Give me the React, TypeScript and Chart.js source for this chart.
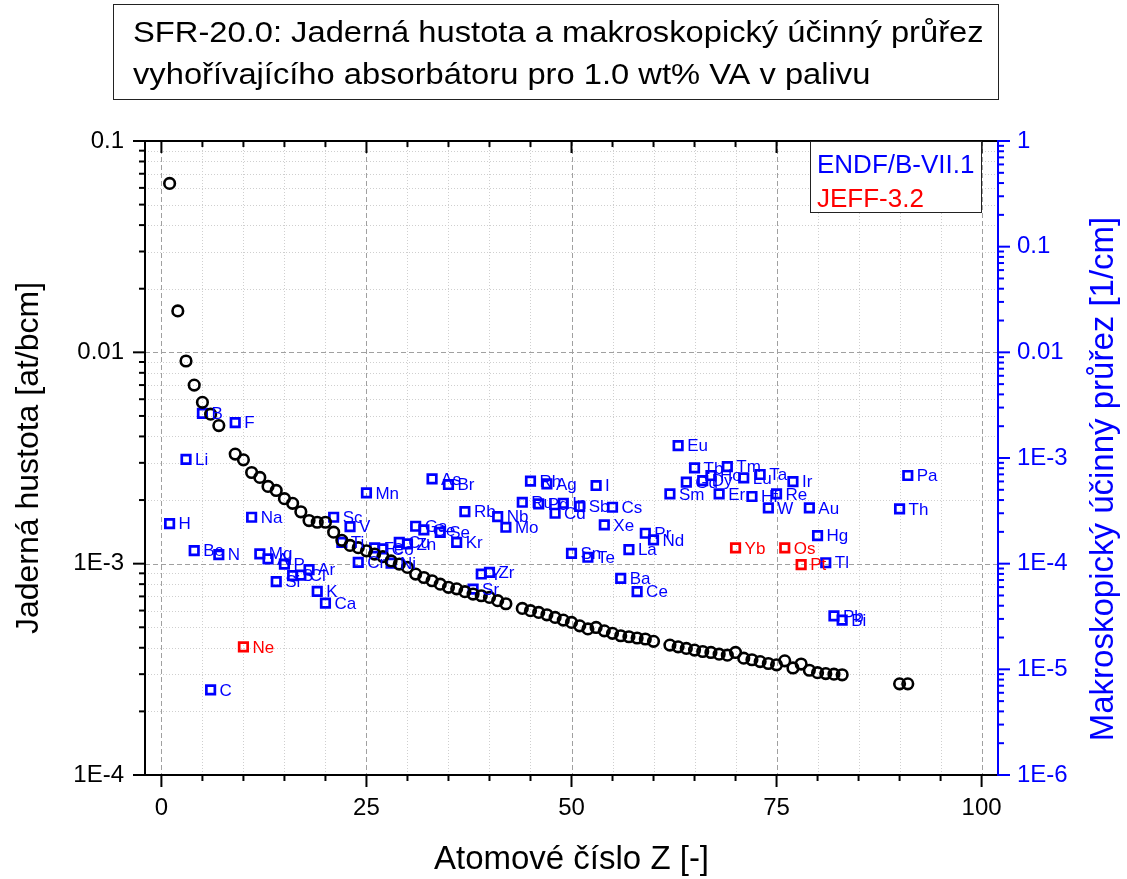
import React, { useEffect, useRef } from "react";
import { Chart, registerables } from "chart.js";

Chart.register(...registerables);

const FONT = '"Liberation Sans", Arial, Helvetica, sans-serif';

// ---- Data ----
// Atomic density [at/bcm] of each element (left axis)
const DENSITY_Z = [
  1, 2, 3, 4, 5, 6, 7, 9, 10, 11, 12, 13, 14, 15, 16, 17, 18, 19, 20, 21, 22, 23, 24, 25, 26, 27, 28, 29, 30,
  31, 32, 33, 34, 35, 36, 37, 38, 39, 40, 41, 42, 44, 45, 46, 47, 48, 49, 50, 51, 52, 53, 54, 55, 56, 57, 58,
  59, 60, 62, 63, 64, 65, 66, 67, 68, 69, 70, 71, 72, 73, 74, 75, 76, 77, 78, 79, 80, 81, 82, 83, 90, 91,
];
const DENSITY = [
  0.063, 0.0157, 0.0091, 0.007, 0.0058, 0.0051, 0.0045, 0.0033, 0.0031, 0.0027, 0.00256, 0.00232, 0.00222,
  0.00203, 0.00193, 0.00176, 0.0016, 0.00157, 0.00157, 0.00141, 0.00129, 0.00122, 0.00119, 0.00115, 0.00111,
  0.00108, 0.00103, 0.000996, 0.00096, 0.000893, 0.00086, 0.00083, 0.0008, 0.000773, 0.00076, 0.000737,
  0.000718, 0.000705, 0.000692, 0.000668, 0.000646, 0.000614, 0.000599, 0.000588, 0.000573, 0.000557,
  0.000541, 0.000527, 0.000508, 0.000491, 0.000499, 0.000481, 0.000468, 0.000456, 0.000451, 0.000445,
  0.00044, 0.000429, 0.000412, 0.000404, 0.000397, 0.00039, 0.000384, 0.00038, 0.000373, 0.000369, 0.00038,
  0.000357, 0.000351, 0.000344, 0.000337, 0.000332, 0.000347, 0.000321, 0.000335, 0.000313, 0.000305,
  0.000302, 0.0003, 0.000298, 0.00027, 0.00027,
];

// Macroscopic cross section [1/cm] (right axis) - ENDF/B-VII.1
const ENDF_Z = [
  1, 3, 4, 5, 6, 7, 9, 11, 12, 13, 14, 15, 16, 17, 18, 19, 20, 21, 22, 23, 24, 25, 26, 27, 28, 29, 30, 31, 32,
  33, 34, 35, 36, 37, 38, 39, 40, 41, 42, 44, 45, 46, 47, 48, 49, 50, 51, 52, 53, 54, 55, 56, 57, 58, 59, 60,
  62, 63, 64, 65, 66, 67, 68, 69, 71, 72, 73, 74, 75, 77, 79, 80, 81, 82, 83, 90, 91,
];
const ENDF_SYMBOLS = [
  "H", "Li", "Be", "B", "C", "N", "F", "Na", "Mg", "Al", "Si", "P", "S", "Cl", "Ar", "K", "Ca", "Sc", "Ti", "V",
  "Cr", "Mn", "Fe", "Co", "Ni", "Cu", "Zn", "Ga", "Ge", "As", "Se", "Br", "Kr", "Rb", "Sr", "Y", "Zr", "Nb",
  "Mo", "Ru", "Rh", "Pd", "Ag", "Cd", "In", "Sn", "Sb", "Te", "I", "Xe", "Cs", "Ba", "La", "Ce", "Pr", "Nd",
  "Sm", "Eu", "Gd", "Tb", "Dy", "Ho", "Er", "Tm", "Lu", "Hf", "Ta", "W", "Re", "Ir", "Au", "Hg", "Tl", "Pb",
  "Bi", "Th", "Pa",
];
const ENDF_SIGMA = [
  2.39e-4, 9.7e-4, 1.33e-4, 2.64e-3, 6.4e-6, 1.22e-4, 2.16e-3, 2.75e-4, 1.24e-4, 1.11e-4, 6.75e-5, 9.9e-5,
  7.7e-5, 7.8e-5, 8.8e-5, 5.47e-5, 4.24e-5, 2.75e-4, 1.59e-4, 2.24e-4, 1.03e-4, 4.68e-4, 1.41e-4, 1.38e-4,
  1.01e-4, 1.59e-4, 1.54e-4, 2.26e-4, 2.09e-4, 6.35e-4, 1.98e-4, 5.61e-4, 1.59e-4, 3.11e-4, 5.75e-5, 7.98e-5,
  8.28e-5, 2.79e-4, 2.21e-4, 3.81e-4, 6.03e-4, 3.68e-4, 5.69e-4, 3.0e-4, 3.73e-4, 1.25e-4, 3.49e-4, 1.15e-4,
  5.49e-4, 2.33e-4, 3.42e-4, 7.26e-5, 1.36e-4, 5.43e-5, 1.94e-4, 1.68e-4, 4.57e-4, 1.31e-3, 5.9e-4, 8.07e-4,
  6.12e-4, 6.83e-4, 4.57e-4, 8.3e-4, 6.49e-4, 4.32e-4, 6.98e-4, 3.37e-4, 4.57e-4, 5.98e-4, 3.37e-4, 1.84e-4,
  1.02e-4, 3.21e-5, 2.92e-5, 3.3e-4, 6.83e-4,
];

// Macroscopic cross section [1/cm] - JEFF-3.2
const JEFF_Z = [10, 70, 76, 78];
const JEFF_SYMBOLS = ["Ne", "Yb", "Os", "Pt"];
const JEFF_SIGMA = [1.63e-5, 1.41e-4, 1.41e-4, 9.8e-5];

// ---- Axes ----
const X_MIN = -2;
const X_MAX = 102;
const X_MAJOR = [0, 25, 50, 75, 100];
const X_MINOR = [5, 10, 15, 20, 30, 35, 40, 45, 55, 60, 65, 70, 80, 85, 90, 95];
const Y_LEFT_TICKS = [1e-4, 1e-3, 1e-2, 1e-1];
const Y_LEFT_LABELS = ["1E-4", "1E-3", "0.01", "0.1"];
const Y_RIGHT_TICKS = [1e-6, 1e-5, 1e-4, 1e-3, 1e-2, 1e-1, 1];
const Y_RIGHT_LABELS = ["1E-6", "1E-5", "1E-4", "1E-3", "0.01", "0.1", "1"];

const TITLE_LINES = [
  "SFR-20.0: Jaderná hustota a makroskopický účinný průřez",
  "vyhořívajícího absorbátoru pro 1.0 wt% VA v palivu",
];
const X_TITLE = "Atomové číslo Z [-]";
const Y_LEFT_TITLE = "Jaderná hustota [at/bcm]";
const Y_RIGHT_TITLE = "Makroskopický účinný průřez [1/cm]";
const LEGEND_ITEMS = ["ENDF/B-VII.1", "JEFF-3.2"];

const BLUE = "#0000ff";
const RED = "#ff0000";

function minorLogValues(ticks: number[]): number[] {
  const out: number[] = [];
  for (let i = 0; i < ticks.length - 1; i++) {
    for (let k = 2; k <= 9; k++) out.push(ticks[i] * k);
  }
  return out;
}

const framePlugin = {
  id: "frame",
  beforeDatasetsDraw(chart: any) {
    const { ctx, chartArea: a, scales } = chart;
    const xs = scales.x;
    const yl = scales.y;
    const yr = scales.y2;
    const line = (x1: number, y1: number, x2: number, y2: number) => {
      ctx.beginPath();
      ctx.moveTo(x1, y1);
      ctx.lineTo(x2, y2);
      ctx.stroke();
    };
    ctx.save();
    ctx.lineWidth = 1;
    // minor grid (dotted)
    ctx.strokeStyle = "#cfcfcf";
    ctx.setLineDash([1, 2]);
    for (const v of X_MINOR) {
      const px = Math.round(xs.getPixelForValue(v)) + 0.5;
      line(px, a.top, px, a.bottom);
    }
    for (const v of minorLogValues(Y_LEFT_TICKS)) {
      const py = Math.round(yl.getPixelForValue(v)) + 0.5;
      line(a.left, py, a.right, py);
    }
    // major grid (dashed)
    ctx.strokeStyle = "#a0a0a0";
    ctx.setLineDash([5, 3]);
    for (const v of X_MAJOR) {
      const px = Math.round(xs.getPixelForValue(v)) + 0.5;
      line(px, a.top, px, a.bottom);
    }
    for (const v of Y_LEFT_TICKS.slice(1, -1)) {
      const py = Math.round(yl.getPixelForValue(v)) + 0.5;
      line(a.left, py, a.right, py);
    }
    ctx.setLineDash([]);

    // axes
    ctx.lineWidth = 2;
    ctx.strokeStyle = "#000";
    line(a.left, a.top, a.right, a.top);
    line(a.left, a.bottom, a.right, a.bottom);
    line(a.left, a.top - 1, a.left, a.bottom + 1);
    // bottom ticks (outward) and top ticks (inward)
    for (const v of X_MAJOR) {
      const px = xs.getPixelForValue(v);
      line(px, a.bottom, px, a.bottom + 12);
      line(px, a.top, px, a.top + 12);
    }
    for (const v of X_MINOR) {
      const px = xs.getPixelForValue(v);
      line(px, a.bottom, px, a.bottom + 6);
      line(px, a.top, px, a.top + 6);
    }
    // left ticks
    for (const v of Y_LEFT_TICKS) {
      const py = yl.getPixelForValue(v);
      line(a.left, py, a.left - 12, py);
    }
    for (const v of minorLogValues(Y_LEFT_TICKS)) {
      const py = yl.getPixelForValue(v);
      line(a.left, py, a.left - 6, py);
    }
    // right axis (blue)
    ctx.strokeStyle = BLUE;
    line(a.right, a.top - 1, a.right, a.bottom + 1);
    for (const v of Y_RIGHT_TICKS) {
      const py = yr.getPixelForValue(v);
      line(a.right, py, a.right + 12, py);
    }
    for (const v of minorLogValues(Y_RIGHT_TICKS)) {
      const py = yr.getPixelForValue(v);
      line(a.right, py, a.right + 6, py);
    }
    ctx.restore();
  },
  afterDatasetsDraw(chart: any) {
    const { ctx } = chart;
    ctx.save();
    ctx.font = `17px ${FONT}`;
    ctx.textAlign = "left";
    ctx.textBaseline = "middle";
    const sets: [number, string[], string][] = [
      [1, ENDF_SYMBOLS, BLUE],
      [2, JEFF_SYMBOLS, RED],
    ];
    for (const [idx, syms, color] of sets) {
      const meta = chart.getDatasetMeta(idx);
      ctx.fillStyle = color;
      meta.data.forEach((el: any, i: number) => {
        ctx.fillText(syms[i], el.x + 9, el.y + 1);
      });
    }
    ctx.restore();
  },
  afterDraw(chart: any) {
    const { ctx, chartArea: a } = chart;
    ctx.save();
    // title box
    ctx.fillStyle = "#fff";
    ctx.fillRect(113, 4, 885, 95);
    ctx.strokeStyle = "#222";
    ctx.lineWidth = 1;
    ctx.strokeRect(113.5, 4.5, 885, 95);
    ctx.fillStyle = "#000";
    ctx.font = `30px ${FONT}`;
    ctx.textAlign = "left";
    ctx.textBaseline = "alphabetic";
    ctx.save();
    ctx.translate(133, 0);
    ctx.scale(1.09, 1);
    ctx.fillText(TITLE_LINES[0], 0, 42);
    ctx.fillText(TITLE_LINES[1], 0, 84);
    ctx.restore();

    // legend box
    ctx.fillStyle = "#fff";
    ctx.fillRect(810, a.top, 172, 72);
    ctx.strokeStyle = "#222";
    ctx.strokeRect(810.5, a.top + 0.5, 171, 71);
    ctx.font = `26px ${FONT}`;
    ctx.fillStyle = BLUE;
    ctx.fillText(LEGEND_ITEMS[0], 817, 173);
    ctx.fillStyle = RED;
    ctx.fillText(LEGEND_ITEMS[1], 817, 207);

    // axis titles
    ctx.font = `33px ${FONT}`;
    ctx.fillStyle = "#000";
    ctx.textAlign = "center";
    ctx.fillText(X_TITLE, (a.left + a.right) / 2, 869);

    ctx.save();
    ctx.font = `32px ${FONT}`;
    ctx.translate(38, (a.top + a.bottom) / 2);
    ctx.rotate(-Math.PI / 2);
    ctx.fillText(Y_LEFT_TITLE, 0, 0);
    ctx.restore();

    ctx.save();
    ctx.fillStyle = BLUE;
    ctx.translate(1113, 479);
    ctx.rotate(-Math.PI / 2);
    ctx.fillText(Y_RIGHT_TITLE, 0, 0);
    ctx.restore();

    ctx.restore();
  },
};

export default function App() {
  const canvasRef = useRef<HTMLCanvasElement | null>(null);

  useEffect(() => {
    const canvas = canvasRef.current;
    if (!canvas) return;
    const chart = new Chart(canvas, {
      type: "scatter",
      data: {
        datasets: [
          {
            label: "density",
            data: DENSITY_Z.map((z, i) => ({ x: z, y: DENSITY[i] })),
            yAxisID: "y",
            pointStyle: "circle",
            pointRadius: 5.3,
            borderWidth: 2.6,
            borderColor: "#000",
            backgroundColor: "rgba(0,0,0,0)",
            showLine: false,
          },
          {
            label: LEGEND_ITEMS[0],
            data: ENDF_Z.map((z, i) => ({ x: z, y: ENDF_SIGMA[i] })),
            yAxisID: "y2",
            pointStyle: "rect",
            pointRadius: 6,
            borderWidth: 2.7,
            borderColor: BLUE,
            backgroundColor: "rgba(0,0,0,0)",
            showLine: false,
          },
          {
            label: LEGEND_ITEMS[1],
            data: JEFF_Z.map((z, i) => ({ x: z, y: JEFF_SIGMA[i] })),
            yAxisID: "y2",
            pointStyle: "rect",
            pointRadius: 6,
            borderWidth: 2.7,
            borderColor: RED,
            backgroundColor: "rgba(0,0,0,0)",
            showLine: false,
          },
        ],
      },
      options: {
        animation: false,
        responsive: false,
        devicePixelRatio: 1,
        layout: { padding: { top: 141, left: 0, right: 0, bottom: 0 }, autoPadding: false },
        plugins: { legend: { display: false }, tooltip: { enabled: false } },
        events: [],
        scales: {
          x: {
            type: "linear",
            position: "bottom",
            min: X_MIN,
            max: X_MAX,
            grid: { display: false, drawTicks: false },
            border: { display: false },
            afterBuildTicks: (s: any) => {
              s.ticks = X_MAJOR.map((v) => ({ value: v }));
            },
            afterFit: (s: any) => {
              s.height = 104;
            },
            ticks: {
              autoSkip: false,
              maxRotation: 0,
              padding: 19,
              color: "#000",
              font: { family: FONT, size: 24 },
              callback: (v: any) => String(v),
            },
          },
          y: {
            type: "logarithmic",
            position: "left",
            min: 1e-4,
            max: 0.1,
            grid: { display: false, drawTicks: false },
            border: { display: false },
            afterBuildTicks: (s: any) => {
              s.ticks = Y_LEFT_TICKS.map((v) => ({ value: v }));
            },
            afterFit: (s: any) => {
              s.width = 145;
            },
            ticks: {
              autoSkip: false,
              padding: 21,
              color: "#000",
              font: { family: FONT, size: 24 },
              callback: (_v: any, i: number) => Y_LEFT_LABELS[i],
            },
          },
          y2: {
            type: "logarithmic",
            position: "right",
            min: 1e-6,
            max: 1,
            grid: { display: false, drawTicks: false },
            border: { display: false },
            afterBuildTicks: (s: any) => {
              s.ticks = Y_RIGHT_TICKS.map((v) => ({ value: v }));
            },
            afterFit: (s: any) => {
              s.width = 129;
            },
            ticks: {
              autoSkip: false,
              padding: 19,
              color: BLUE,
              font: { family: FONT, size: 24 },
              callback: (_v: any, i: number) => Y_RIGHT_LABELS[i],
            },
          },
        },
      },
      plugins: [framePlugin],
    } as any);
    return () => chart.destroy();
  }, []);

  return (
    <div style={{ position: "absolute", left: 0, top: 0, width: 1127, height: 879, background: "#fff" }}>
      <canvas ref={canvasRef} width={1127} height={879} style={{ display: "block" }} />
    </div>
  );
}
